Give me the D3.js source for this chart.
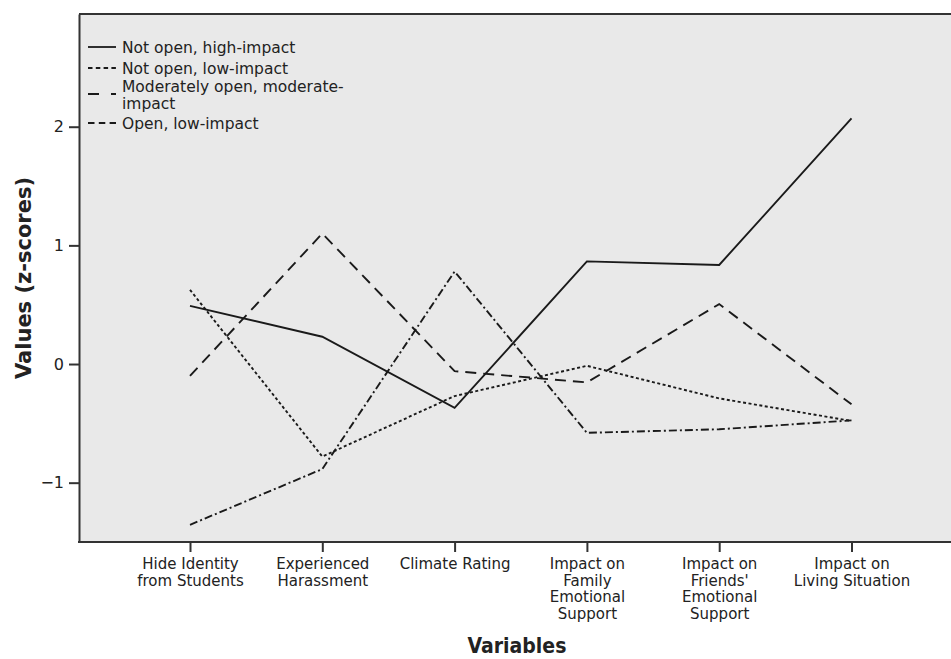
<!DOCTYPE html>
<html>
<head>
<meta charset="utf-8">
<script src="https://cdn.jsdelivr.net/npm/d3@7"></script>
<style>
  body { margin: 0; background: #fff; }
  svg text { fill: #222; }
</style>
</head>
<body>
<svg id="chart" width="951" height="659"></svg>
<script>
// chart values
var categories = ["Hide Identity from Students", "Experienced Harassment", "Climate Rating",
  "Impact on Family Emotional Support", "Impact on Friends' Emotional Support", "Impact on Living Situation"];
var tickLines = [
  ["Hide Identity", "from Students"],
  ["Experienced", "Harassment"],
  ["Climate Rating"],
  ["Impact on", "Family", "Emotional", "Support"],
  ["Impact on", "Friends'", "Emotional", "Support"],
  ["Impact on", "Living Situation"]
];
var seriesNames = ["Not open, high-impact", "Not open, low-impact", "Moderately open, moderate-impact", "Open, low-impact"];
var notOpenHigh = [0.49, 0.23, -0.37, 0.865, 0.835, 2.07];
var notOpenLow = [0.625, -0.78, -0.27, -0.015, -0.29, -0.48];
var moderateOpen = [-0.10, 1.10, -0.06, -0.155, 0.505, -0.34];
var openLow = [-1.355, -0.885, 0.78, -0.58, -0.55, -0.475];
var yTicks = [-1, 0, 1, 2];

var series = [notOpenHigh, notOpenLow, moderateOpen, openLow];
var dashes = [null, "3,2.5", "11,7", "8,3,2,3"];
var legendDashes = [null, "4.5,3.3", "11,12,5,100", "6.5,4.3"];

var svg = d3.select("#chart");
var pL = 79, pT = 14, pR = 951, pB = 542;

var x = d3.scalePoint().domain(categories).range([190, 851.5]);
var y = d3.scaleLinear().domain([-1.5, 2.95]).range([pB, pT]);

// plot background
svg.append("rect")
  .attr("x", pL).attr("y", pT)
  .attr("width", pR - pL + 5).attr("height", pB - pT)
  .attr("fill", "#e9e9e9");

// top frame line
svg.append("line")
  .attr("x1", pL).attr("x2", pR + 5)
  .attr("y1", pT).attr("y2", pT)
  .attr("stroke", "#333").attr("stroke-width", 2);

// y axis
var yAxis = svg.append("g")
  .attr("transform", "translate(" + pL + ",0)")
  .call(d3.axisLeft(y).tickValues(yTicks).tickSize(10).tickSizeOuter(0).tickPadding(5).tickFormat(function(d){
    return d < 0 ? "\u2212" + Math.abs(d) : d;
  }));
yAxis.select(".domain").attr("stroke", "#333").attr("stroke-width", 2);
yAxis.selectAll(".tick line").attr("stroke", "#333").attr("stroke-width", 2);
yAxis.selectAll(".tick text")
  .attr("font-family", "DejaVu Sans").attr("font-size", 16).attr("fill", "#333");

// x axis
var xAxis = svg.append("g")
  .attr("transform", "translate(0," + pB + ")")
  .call(d3.axisBottom(x).tickSize(10).tickSizeOuter(0).tickFormat(""));
xAxis.select(".domain").attr("d", "M" + (pL - 1) + ",0H" + (pR + 5)).attr("stroke", "#333").attr("stroke-width", 2);
xAxis.selectAll(".tick line").attr("stroke", "#333").attr("stroke-width", 2);

xAxis.selectAll(".tick").each(function(d, i){
  var t = d3.select(this).append("text")
    .attr("text-anchor", "middle")
    .attr("font-family", "DejaVu Sans")
    .attr("font-size", 15)
    .attr("fill", "#222")
    .attr("y", 27);
  tickLines[i].forEach(function(s, j){
    t.append("tspan").attr("x", 0).attr("dy", j == 0 ? 0 : 16.5).text(s);
  });
});

// lines
var line = d3.line()
  .x(function(d, i){ return x(categories[i]); })
  .y(function(d){ return y(d); });

svg.append("g").selectAll("path")
  .data(series)
  .enter()
  .append("path")
  .attr("d", line)
  .attr("fill", "none")
  .attr("stroke", "#1a1a1a")
  .attr("stroke-width", 1.9)
  .attr("stroke-dasharray", function(d, i){ return dashes[i]; });

// legend
var legendRows = [47, 68, 86, 123];
var lg = svg.append("g");
lg.selectAll("line")
  .data(seriesNames)
  .enter()
  .append("line")
  .attr("x1", 88).attr("x2", 116)
  .attr("y1", function(d, i){ return legendRows[i] + (i == 2 ? 8 : 0); })
  .attr("y2", function(d, i){ return legendRows[i] + (i == 2 ? 8 : 0); })
  .attr("stroke", "#1a1a1a").attr("stroke-width", 1.8)
  .attr("stroke-dasharray", function(d, i){ return legendDashes[i]; });

var legendText = [["Not open, high-impact"], ["Not open, low-impact"], ["Moderately open, moderate-", "impact"], ["Open, low-impact"]];
legendText.forEach(function(lines, i){
  var t = lg.append("text")
    .attr("x", 122).attr("y", legendRows[i] + 5.5)
    .attr("font-family", "DejaVu Sans")
    .attr("font-size", 15.5)
    .attr("fill", "#111");
  lines.forEach(function(s, j){
    t.append("tspan").attr("x", 122).attr("dy", j == 0 ? 0 : 17).text(s);
  });
});

// axis titles
svg.append("text")
  .attr("transform", "translate(31,278) rotate(-90)")
  .attr("text-anchor", "middle")
  .attr("font-family", "DejaVu Sans")
  .attr("font-weight", "bold")
  .attr("font-size", 21)
  .attr("fill", "#222")
  .text("Values (z-scores)");

svg.append("text")
  .attr("x", 517).attr("y", 653)
  .attr("text-anchor", "middle")
  .attr("font-family", "DejaVu Sans Condensed, DejaVu Sans")
  .attr("font-weight", "bold")
  .attr("font-size", 21)
  .attr("fill", "#222")
  .text("Variables");
</script>
</body>
</html>
